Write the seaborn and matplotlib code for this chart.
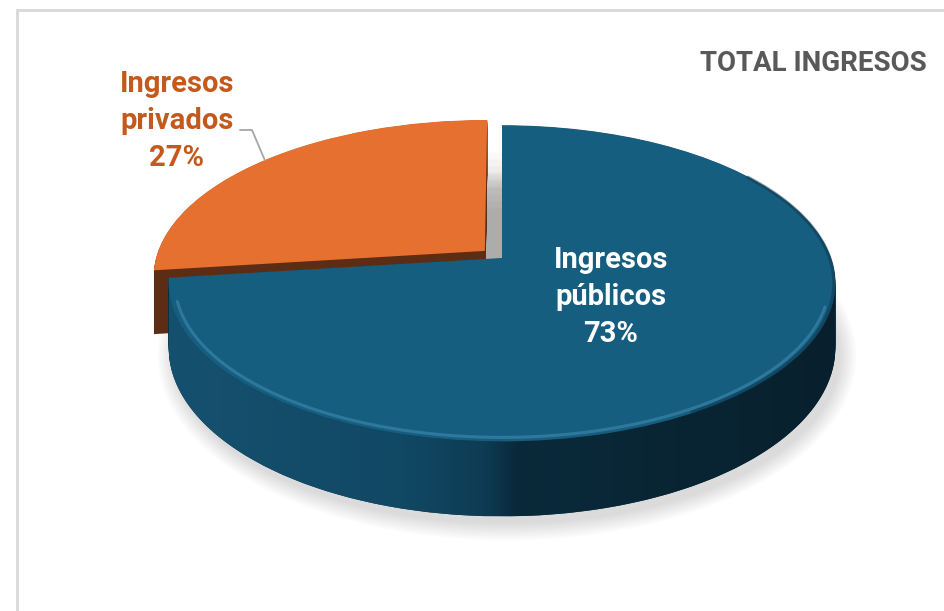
import numpy as np
import matplotlib
matplotlib.use("Agg")
import matplotlib.pyplot as plt
import seaborn as sns
from matplotlib import font_manager
from matplotlib.colors import LinearSegmentedColormap
from matplotlib.patches import Polygon, Ellipse, Rectangle
from matplotlib.transforms import Transform

# --- Data ---
label_lines = ["Ingresos\nprivados", "Ingresos\npúblicos"]
shares = [27, 73]
explode = [0.07, 0.0]
title = "TOTAL INGRESOS"

# --- Style ---
top_colors = ["#e5702f", "#165e7f"]
side_colors = ["#5c2c14", "#0c3146"]
label_colors = ["#c4591b", "white"]
side_cmap = LinearSegmentedColormap.from_list(
    "side", [(0, "#15516f"), (0.35, "#114864"), (0.47, "#0e3c55"),
             (0.52, "#0a2a3b"), (1, "#08202d")])

# --- Layout (pixels, top-left origin) ---
W, H = 944, 611
CX, VY = 502, 258   # where the pie centre lands on screen
RX, RY = 329, 154   # radius across / radius in depth
K = 0.16            # perspective strength
DEPTH = 63          # thickness of the pie

sns.set_theme(style="white")
avail = {f.name for f in font_manager.fontManager.ttflist}
font = next((f for f in ["Roboto", "Lato", "DejaVu Sans"] if f in avail), "DejaVu Sans")
plt.rcParams["font.family"] = [font, "DejaVu Sans"]


def project(x, y, z=0.0):
    s = 1.0 / (1.0 + K * np.asarray(y))
    return CX + RX * np.asarray(x) * s, VY - (RY * np.asarray(y) + z) * s


class Tilt(Transform):
    """Pie coordinates -> screen pixels, seen from above in perspective."""
    input_dims = output_dims = 2

    def __init__(self, z=0.0):
        super().__init__()
        self.z = z

    def transform_non_affine(self, values):
        values = np.asarray(values, dtype=float)
        X, Y = project(values[:, 0], values[:, 1], self.z)
        return np.column_stack([X, Y])


fig = plt.figure(figsize=(W / 100, H / 100), dpi=100)
ax = fig.add_axes([0, 0, 1, 1])

# side walls: stacked pies
for z in np.linspace(-DEPTH, -0.5, 64):
    wedges, _ = ax.pie(shares, explode=explode, colors=side_colors, startangle=90,
                       radius=1, wedgeprops=dict(linewidth=0, edgecolor="none"))
    for wdg, zo in zip(wedges, [1, 3]):
        wdg.set_transform(Tilt(z) + ax.transData)
        wdg.set_zorder(zo)

# top faces
tops, _ = ax.pie(shares, explode=explode, colors=top_colors, startangle=90,
                 radius=1, wedgeprops=dict(linewidth=0, edgecolor="none"))
for wdg, zo in zip(tops, [2, 5]):
    wdg.set_transform(Tilt(0) + ax.transData)
    wdg.set_zorder(zo)

# shaded front wall of the big slice
w = tops[1]
cx, cy = w.center
edge = np.degrees(np.arcsin(K))
t = np.radians(np.linspace(max(w.theta1, 180 + edge), min(w.theta2, 360 - edge), 200))
rx, ry = cx + w.r * np.cos(t), cy + w.r * np.sin(t)
tx, ty = project(rx, ry, 0)
bx, by = project(rx, ry, -DEPTH)
pts = np.vstack([np.column_stack([tx, ty]), np.column_stack([bx[::-1], by[::-1]])])
wall = Polygon(pts, closed=True, transform=ax.transData)
im = ax.imshow(np.linspace(0, 1, 256)[None, :], cmap=side_cmap, aspect="auto",
               extent=(pts[:, 0].min(), pts[:, 0].max(), pts[:, 1].max(), pts[:, 1].min()),
               zorder=4)
im.set_clip_path(wall)

# soft shadow under the pie (also seen through the gap between slices)
bt = np.radians(np.linspace(0, 360, 200))
for z, dx0, dy0, alpha in [(-DEPTH, 5, 8, 0.016), (-DEPTH / 2, 0, 0, 0.022)]:
    sx, sy = project(np.cos(bt), np.sin(bt), z)
    scx, scy = (sx.max() + sx.min()) / 2 + dx0, (sy.max() + sy.min()) / 2 + dy0
    sw, sh = sx.max() - sx.min(), sy.max() - sy.min()
    for k in range(9):
        grow = 4 * k if z == -DEPTH else -14 * k
        ax.add_patch(Ellipse((scx, scy), sw + grow, sh + grow,
                             facecolor="black", alpha=alpha, lw=0, zorder=0))

# bevel highlight on the front rim, dark edge on the right rim
ht = np.radians(np.linspace(196, 342, 150))
hx, hy = project(cx + 0.982 * np.cos(ht), cy + 0.982 * np.sin(ht), 0)
ax.plot(hx, hy, color="#3d8ab0", lw=2.2, alpha=0.6, zorder=6, solid_capstyle="round")
dt = np.radians(np.linspace(-60, 35, 100))
dx, dy = project(cx + 0.996 * np.cos(dt), cy + 0.996 * np.sin(dt), 0)
ax.plot(dx, dy, color="#0c3146", lw=2.5, alpha=0.45, zorder=6)

# leader line for the small slice
wo = tops[0]
th = np.radians((wo.theta1 + wo.theta2) / 2)
rim = project(wo.center[0] + wo.r * np.cos(th), wo.center[1] + wo.r * np.sin(th), 0)
ax.plot([240, 252, rim[0]], [130, 130, rim[1]], color="#a6a6a6", lw=1.3, zorder=7)

ax.set_xlim(0, W)
ax.set_ylim(H, 0)
ax.set_aspect("auto")
ax.set_axis_off()

# labels
fig.text(177 / W, 1 - 121 / H, f"{label_lines[0]}\n{shares[0]}%", color=label_colors[0],
         fontsize=21, fontweight="bold", ha="center", va="center", linespacing=1.42)
fig.text(611 / W, 1 - 297 / H, f"{label_lines[1]}\n{shares[1]}%", color=label_colors[1],
         fontsize=21, fontweight="bold", ha="center", va="center", linespacing=1.42)
fig.text(927 / W, 1 - 71 / H, title, color="#595959", fontsize=20, fontweight="bold",
         ha="right", va="baseline")

# chart frame
fig.patches.append(Rectangle((17 / W, -0.05), 2, 1.05 - 10 / H, transform=fig.transFigure,
                             facecolor="none", edgecolor="#d9d9d9", lw=2))

fig.savefig("out.png", dpi=100, facecolor="white")
